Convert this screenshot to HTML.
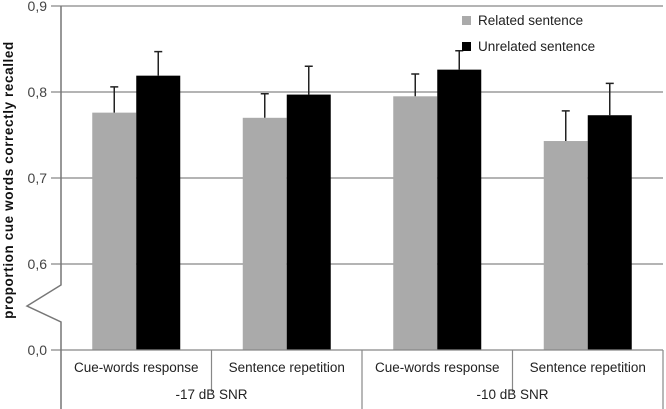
<!DOCTYPE html>
<html><head><meta charset="utf-8"><style>
body{margin:0;background:#fff;}
svg{display:block;font-family:"Liberation Sans",sans-serif;}
</style></head><body>
<svg width="666" height="409">
<g id="grid"></g><g id="bars"></g><g id="axes"></g>
</svg>
<script>
const categories=["Cue-words response","Sentence repetition","Cue-words response","Sentence repetition"];
const groups=["-17 dB SNR","-10 dB SNR"];
const related=[0.776,0.770,0.795,0.743];
const unrelated=[0.819,0.797,0.826,0.773];
const relatedErr=[0.030,0.028,0.026,0.035];
const unrelatedErr=[0.028,0.033,0.022,0.037];
const ticks=[0.6,0.7,0.8,0.9];
const tickLabels=["0,6","0,7","0,8","0,9"];
const NS="http://www.w3.org/2000/svg";
const X0=61,X1=663,Y0=350;
function y(v){return 264-(v-0.6)*860;}
function mk(p,t,a){const e=document.createElementNS(NS,t);for(const k in a)e.setAttribute(k,a[k]);p.appendChild(e);return e;}
const grid=document.getElementById('grid'),bars=document.getElementById('bars'),axes=document.getElementById('axes');
ticks.forEach((t,i)=>{
 const l=mk(grid,'line',{x1:X0-10,x2:X1,y1:y(t),y2:y(t),stroke:'#888','stroke-width':1.2});
 
 
 const tx=mk(axes,'text',{x:X0-14,y:y(t)+5,'text-anchor':'end','font-size':14,fill:'#444'});tx.textContent=tickLabels[i];
 
 
});
const z=mk(axes,'text',{x:X0-14,y:Y0+5,'text-anchor':'end','font-size':14,fill:'#444'});z.textContent="0,0";


mk(axes,'line',{x1:X0-10,x2:X1,y1:Y0,y2:Y0,stroke:'#888','stroke-width':1.2});
const cw=(X1-X0)/categories.length,bw=44;
categories.forEach((c,i)=>{
 const cx=X0+cw*(i+0.5);
 [[related,relatedErr,'#aaaaaa',cx-bw,'bar-related'],[unrelated,unrelatedErr,'#000',cx,'bar-unrelated']].forEach(([d,e,col,bx,nm])=>{
  const r=mk(bars,'rect',{x:bx,y:y(d[i]),width:bw,height:Y0-y(d[i]),fill:col});
  
  
  const ex=bx+bw/2,et=y(d[i]+e[i]);
  const eb=mk(bars,'path',{d:`M${ex},${y(d[i])}V${et}M${ex-4},${et}H${ex+4}`,stroke:'#222','stroke-width':1.5,fill:'none'});
  
  
 });
 const t=mk(axes,'text',{x:cx,y:372,'text-anchor':'middle','font-size':13.5,fill:'#222'});t.textContent=c;
 
 
 mk(axes,'line',{x1:X0+cw*(i+1),x2:X0+cw*(i+1),y1:Y0,y2:(i%2==1?409:392),stroke:'#888','stroke-width':1.2});
});
groups.forEach((g,i)=>{
 const t=mk(axes,'text',{x:X0+cw*(2*i+1),y:399,'text-anchor':'middle','font-size':13.5,fill:'#222'});t.textContent=g;
 
 
});
mk(axes,'path',{d:`M${X0},6V285L27,306L${X0},322V409`,stroke:'#777','stroke-width':1.5,fill:'none'});
const yt=mk(axes,'text',{transform:'translate(13,180) rotate(-90)','text-anchor':'middle','font-size':13.5,'font-weight':'bold',fill:'#111','letter-spacing':'0.6'});
yt.textContent="proportion  cue words correctly recalled";


[["Related sentence","#aaaaaa",22],["Unrelated sentence","#000",48]].forEach(([n,c,ly])=>{
 const s=mk(axes,'rect',{x:462,y:ly-6,width:9,height:9,fill:c});
 
 
 const t=mk(axes,'text',{x:478,y:ly+3,'font-size':13.5,fill:'#222'});t.textContent=n;
 
 
});
</script>
</body></html>
